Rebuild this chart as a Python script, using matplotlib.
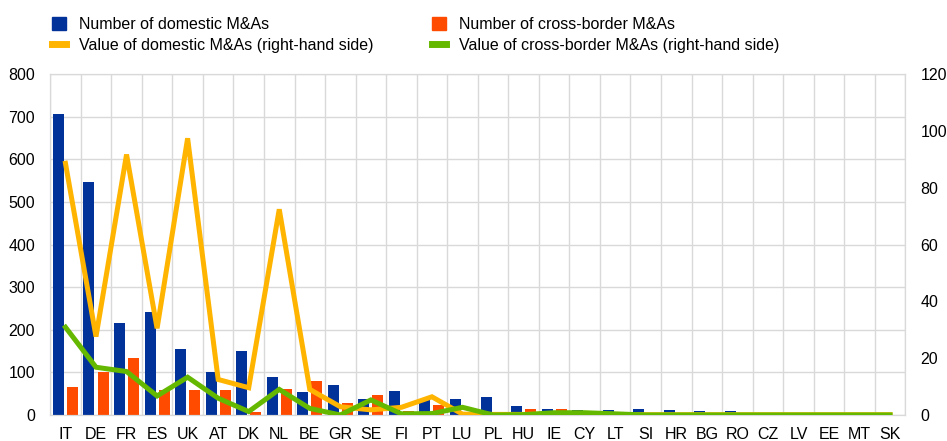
import numpy as np
import matplotlib.pyplot as plt
from matplotlib.patches import Patch
from matplotlib.lines import Line2D

plt.rcParams['font.family'] = ['Liberation Sans', 'DejaVu Sans']

countries = ['IT', 'DE', 'FR', 'ES', 'UK', 'AT', 'DK', 'NL', 'BE', 'GR', 'SE', 'FI', 'PT', 'LU',
             'PL', 'HU', 'IE', 'CY', 'LT', 'SI', 'HR', 'BG', 'RO', 'CZ', 'LV', 'EE', 'MT', 'SK']
num_domestic = [706, 547, 217, 242, 156, 102, 151, 90, 53, 70, 37, 56, 35, 38,
                43, 20, 13, 11, 11, 13, 11, 10, 10, 0, 0, 0, 0, 0]
num_cross = [66, 101, 133, 58, 59, 58, 8, 60, 80, 29, 47, 10, 23, 5,
             2, 14, 13, 10, 7, 0, 0, 0, 0, 0, 0, 0, 0, 0]
val_domestic = [88.6, 27.6, 91.7, 30.5, 97.4, 12.5, 9.6, 72.4, 9.0, 2.9, 1.8, 2.7, 6.4, 0.3,
                0.2, 0.2, 0.3, 0.2, 0.2, 0.1, 0.1, 0.1, 0.1, 0.1, 0.1, 0.1, 0.1, 0.1]
val_cross = [30.9, 16.8, 15.3, 6.7, 13.3, 5.9, 1.2, 9.0, 2.3, 0.0, 5.3, 0.4, 0.5, 2.7,
             0.0, 0.1, 0.8, 0.8, 0.4, 0.0, 0.0, 0.0, 0.0, 0.0, 0.0, 0.0, 0.0, 0.0]

blue = '#003299'
orange = '#ff4b00'
yellow = '#ffb400'
green = '#65b800'
grid = '#d9d9d9'

x = np.arange(len(countries))

fig = plt.figure(figsize=(9.47, 4.41), dpi=100)
ax = fig.add_axes([0.053, 0.059, 0.903, 0.773])
ax2 = ax.twinx()

w = 0.36
ax.bar(x - 0.23, num_domestic, width=w, color=blue, zorder=2)
ax.bar(x + 0.23, num_cross, width=w, color=orange, zorder=2)

ax2.plot(x, val_domestic, color=yellow, lw=3.6, solid_joinstyle='miter', zorder=3)
ax2.plot(x, val_cross, color=green, lw=3.6, solid_joinstyle='miter', zorder=4)

ax.set_xlim(-0.5, len(countries) - 0.5)
ax.set_ylim(0, 800)
ax.set_yticks(range(0, 801, 100))
ax2.set_ylim(0, 120)
ax2.set_yticks(range(0, 121, 20))

ax.set_xticks(x)
ax.set_xticklabels(countries)
ax.set_xticks(np.arange(-0.5, len(countries), 1), minor=True)
ax.grid(True, which='minor', axis='x', color=grid, lw=1, zorder=0)
ax.grid(True, which='major', axis='y', color=grid, lw=1, zorder=0)

for a in (ax, ax2):
    a.tick_params(which='both', length=0, labelsize=11.5, colors='#000000')
    for s in a.spines.values():
        s.set_color(grid)
ax.tick_params(axis='x', pad=9)
ax.tick_params(axis='y', pad=11)
ax2.tick_params(axis='y', pad=11)

handles = [
    Patch(color=blue, label='Number of domestic M&As'),
    Line2D([], [], color=yellow, lw=5, label='Value of domestic M&As (right-hand side)'),
    Patch(color=orange, label='Number of cross-border M&As'),
    Line2D([], [], color=green, lw=5, label='Value of cross-border M&As (right-hand side)'),
]
fig.legend(handles=handles, ncol=2, loc='upper left', bbox_to_anchor=(52 / 947, 1 - 17 / 441),
           frameon=False, borderpad=0, borderaxespad=0, fontsize=11.5, handlelength=0.9,
           handleheight=0.9, handletextpad=0.8, columnspacing=3.65, labelspacing=0.35)

fig.savefig('out.png', dpi=100)
